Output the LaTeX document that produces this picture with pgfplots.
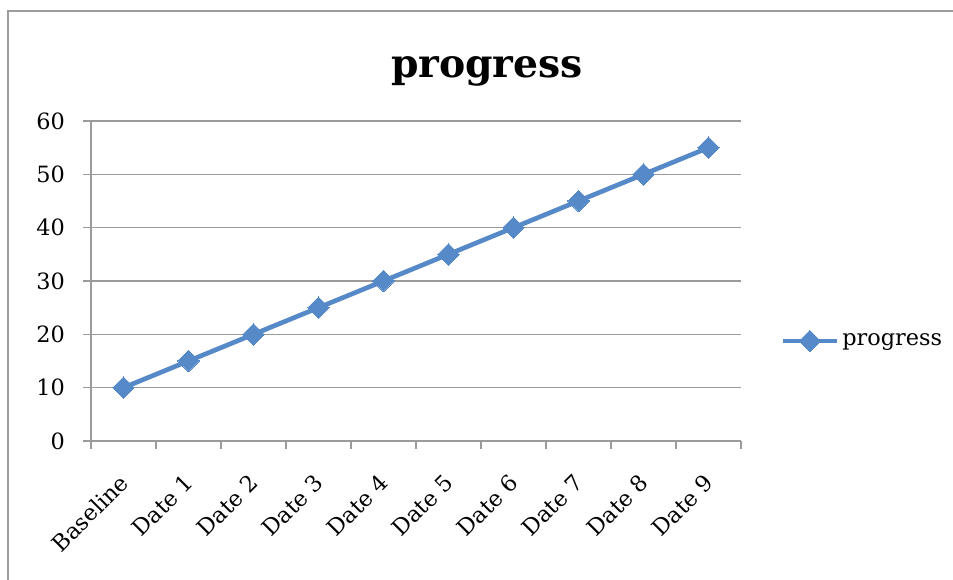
\documentclass[border=0pt]{standalone}
\usepackage{pgfplots}
\pgfplotsset{compat=1.18}
\usepackage{fontspec}
\setmainfont{DejaVu Serif}
\definecolor{ser}{RGB}{86,137,199}
\definecolor{gridc}{RGB}{155,155,155}
\begin{document}
\begin{tikzpicture}
\useasboundingbox (0pt,0pt) rectangle (714.75pt,435pt);
\draw[gridc, line width=1.5pt] (6pt,0pt) -- (6pt,427.1pt) -- (714.75pt,427.1pt);
\node[anchor=base, inner sep=0pt, font=\fontsize{29.5}{35}\selectfont\bfseries] at (365.25pt,376.5pt) {progress};
\begin{axis}[
  at={(68.25pt,104.25pt)}, anchor=south west,
  width=487.5pt, height=240pt, scale only axis,
  xmin=-0.5, xmax=9.5, ymin=0, ymax=60,
  xtick={-0.5,0.5,...,9.5},
  x tick label as interval,
  xticklabels={Baseline,Date 1,Date 2,Date 3,Date 4,Date 5,Date 6,Date 7,Date 8,Date 9},
  ytick={0,10,...,60},
  axis lines*=left,
  axis line style={gridc, line width=1.1pt, -},
  tick style={gridc, line width=1.1pt},
  tick align=outside,
  major tick length=6pt,
  ymajorgrids,
  grid style={gridc, line width=1.1pt},
  /pgf/number format/assume math mode=true,
  ticklabel style={font=\fontsize{16.8}{19}\selectfont, text=black},
  yticklabel style={xshift=-10pt},
  xticklabel style={xshift=3pt, yshift=-20pt, rotate=45, anchor=east},
  legend style={at={(1.06,0.3125)}, anchor=west, draw=none, fill=none, inner sep=0pt,
    font=\fontsize{16.8}{19}\selectfont},
  legend cell align=left,
  legend image code/.code={\draw[mark repeat=2,mark phase=2,#1] plot coordinates {(0pt,0pt) (20.5pt,0pt) (41pt,0pt)};},
  clip=false,
]
\addplot[color=ser, line width=3.5pt, mark=square*, mark size=5.7pt, mark options={rotate=45, solid, line width=0pt}]
  coordinates {(0,10) (1,15) (2,20) (3,25) (4,30) (5,35) (6,40) (7,45) (8,50) (9,55)};
\addlegendentry{progress}
\end{axis}
\end{tikzpicture}
\end{document}
